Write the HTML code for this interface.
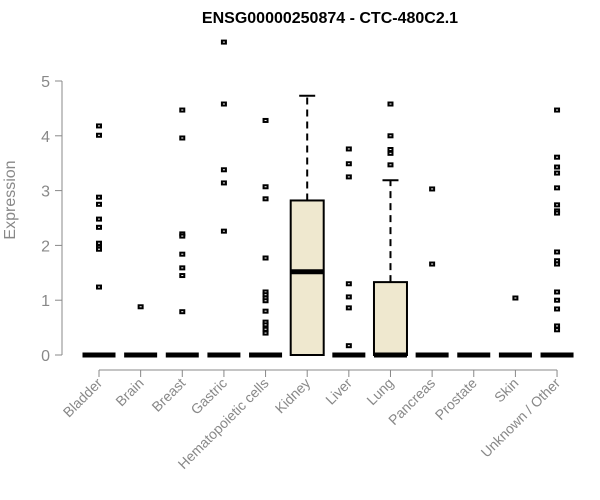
<!DOCTYPE html>
<html><head><meta charset="utf-8"><style>body{margin:0;background:#fff}svg{display:block;font-family:"Liberation Sans",Arial,sans-serif}</style></head>
<body>
<svg id="c" width="600" height="500">
<text x="330" y="23" text-anchor="middle" font-weight="bold" font-size="16">ENSG00000250874 - CTC-480C2.1</text>
<text transform="translate(15,200) rotate(-90)" text-anchor="middle" font-size="16" fill="#888">Expression</text>
<g id="g"></g>
</svg>
<script>
const categories=["Bladder","Brain","Breast","Gastric","Hematopoietic cells","Kidney","Liver","Lung","Pancreas","Prostate","Skin","Unknown / Other"];
const medians=[0,0,0,0,0,1.52,0,0,0,0,0,0];
const q1s=[0,0,0,0,0,0,0,0,0,0,0,0];
const q3s=[0,0,0,0,0,2.82,0,1.33,0,0,0,0];
const whiskerHigh=[0,0,0,0,0,4.73,0,3.19,0,0,0,0];
const outliers=[
[4.18,4.01,2.88,2.75,2.48,2.33,2.04,1.97,1.93,1.24],
[0.88],
[4.47,3.96,2.21,2.17,1.84,1.59,1.45,0.79],
[5.71,4.58,3.38,3.14,2.26],
[4.28,3.07,2.85,1.77,1.15,1.1,1.04,0.99,0.8,0.6,0.55,0.47,0.4],
[],
[3.76,3.49,3.25,1.3,1.06,0.86,0.17],
[4.58,4.0,3.75,3.68,3.47],
[3.03,1.66],
[],
[1.04],
[4.47,3.61,3.43,3.32,3.05,2.74,2.63,2.59,1.88,1.72,1.66,1.15,1.0,0.84,0.53,0.46]];
const yTicks=[0,1,2,3,4,5];
const y=v=>355-v*54.8, x=i=>99+i*41.64;
const g=document.getElementById('g'), NS='http://www.w3.org/2000/svg';
function mk(t,a,name){const e=document.createElementNS(NS,t);for(const k in a)e.setAttribute(k,a[k]);


g.appendChild(e);return e;}
mk('line',{x1:62,x2:62,y1:y(0),y2:y(5),stroke:'#888'},'y-axis-line');
yTicks.forEach(t=>{mk('line',{x1:55,x2:62,y1:y(t),y2:y(t),stroke:'#888'},'y-tick');
const tx=mk('text',{x:50,y:y(t)+6,'text-anchor':'end','font-size':16,fill:'#888'},'y-tick-label');tx.textContent=t;});
mk('line',{x1:x(0),x2:x(11),y1:370,y2:370,stroke:'#888'},'x-axis-line');
categories.forEach((c,i)=>{const cx=x(i),hw=16.5;
mk('line',{x1:cx,x2:cx,y1:370,y2:377,stroke:'#888'},'x-tick');
const tx=mk('text',{transform:`translate(${cx+4},${384}) rotate(-45)`,'text-anchor':'end','font-size':14,fill:'#888'},'x-tick-label');tx.textContent=c;
if(whiskerHigh[i]>q3s[i]){mk('line',{x1:cx,x2:cx,y1:y(q3s[i]),y2:y(whiskerHigh[i]),stroke:'#000','stroke-width':2,'stroke-dasharray':'7,5'},'whisker');
mk('line',{x1:cx-8,x2:cx+8,y1:y(whiskerHigh[i]),y2:y(whiskerHigh[i]),stroke:'#000','stroke-width':2},'whisker-cap');}
if(q3s[i]>q1s[i])mk('rect',{x:cx-hw,y:y(q3s[i]),width:hw*2,height:y(q1s[i])-y(q3s[i]),fill:'#efe8cf',stroke:'#000','stroke-width':2},'box-'+c);
mk('line',{x1:cx-hw,x2:cx+hw,y1:y(medians[i]),y2:y(medians[i]),stroke:'#000','stroke-width':5},'median');
outliers[i].forEach(v=>mk('rect',{x:cx-2,y:y(v)-1.5,width:4,height:3,fill:'#fff',stroke:'#000','stroke-width':2},'outlier'));
});
</script>
</body></html>
